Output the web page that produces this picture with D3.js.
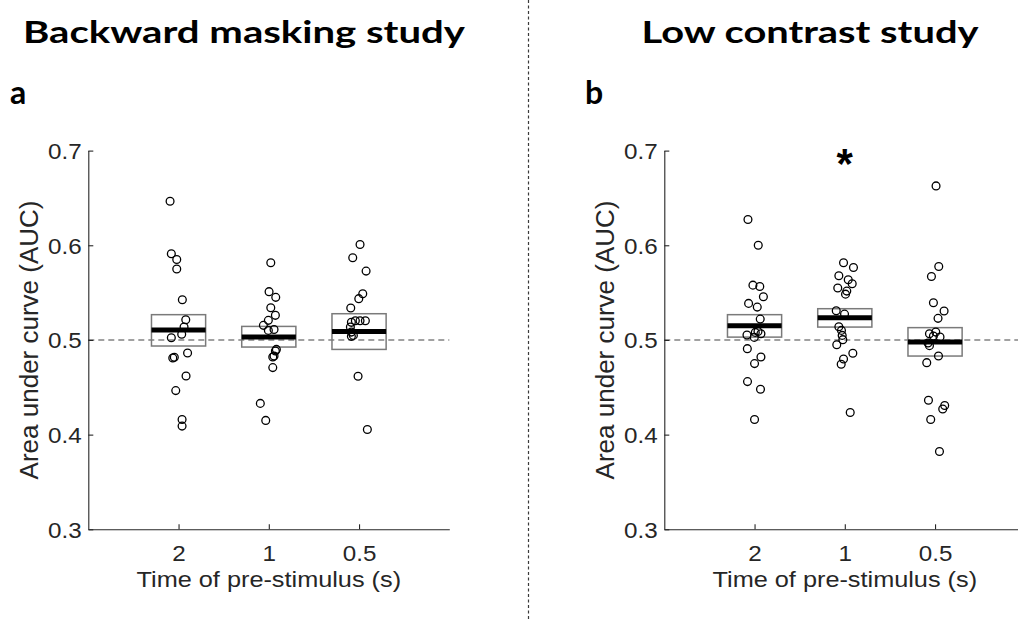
<!DOCTYPE html>
<html><head><meta charset="utf-8">
<script src="https://cdn.jsdelivr.net/npm/d3@7"></script>
<style>body{margin:0;background:#fff}svg{display:block}</style>
</head><body>
<svg id="c" width="1018" height="620"></svg>
<script>
// ---- data ----
const categories = ["2", "1", "0.5"];
const yTicks = [0.3, 0.4, 0.5, 0.6, 0.7];
const titles = ["Backward masking study", "Low contrast study"];
const panelLetters = ["a", "b"];

// Backward masking study: AUC per participant
const maskT2 = [0.6465,0.591,0.585,0.575,0.5425,0.5214,0.5136,0.506,0.5024,0.4862,0.481,0.4817,0.462,0.4465,0.416,0.409];
const maskT2J = [-0.094,-0.08,-0.02,-0.02,0.042,0.08,0.061,0.035,-0.08,0.10,-0.064,-0.047,0.083,-0.031,0.039,0.039];
const maskT1 = [0.5815,0.551,0.545,0.534,0.526,0.5207,0.5154,0.5101,0.511,0.490,0.4883,0.482,0.483,0.4708,0.433,0.415];
const maskT1J = [0.022,0.003,0.077,0.022,0.073,-0.005,-0.06,-0.005,0.058,0.084,0.073,0.044,0.058,0.044,-0.094,-0.034];
const maskT05 = [0.6008,0.5868,0.5727,0.5488,0.5436,0.5337,0.5203,0.5203,0.5203,0.5186,0.5136,0.5083,0.5038,0.5048,0.4616,0.4054];
const maskT05J = [0.011,-0.07,0.078,0.041,-0.003,-0.092,0.07,0.011,-0.041,-0.085,-0.096,-0.085,-0.085,-0.063,-0.011,0.092];
const maskBoxLow = [0.4936, 0.4925, 0.490];
const maskBoxMid = [0.5105, 0.503, 0.509];
const maskBoxHigh = [0.5267, 0.5143, 0.5277];

// Low contrast study
const lowT2 = [0.6272,0.6001,0.5579,0.5565,0.5457,0.5386,0.5347,0.522,0.509,0.5066,0.5052,0.5027,0.508,0.4908,0.482,0.475,0.456,0.4479,0.4159];
const lowT2J = [-0.073,0.041,-0.018,0.058,0.098,-0.066,0.03,0.063,0.038,0.071,-0.084,-0.003,0.008,-0.08,0.071,0,-0.078,0.066,0];
const lowT1 = [0.5815,0.5766,0.5678,0.5636,0.5594,0.5548,0.5516,0.5484,0.5309,0.5273,0.514,0.5101,0.5048,0.5003,0.495,0.4859,0.4799,0.4743,0.4233];
const lowT1J = [-0.014,0.096,-0.066,0.038,0.082,-0.078,0.022,0.008,-0.095,-0.003,-0.066,-0.037,-0.029,-0.022,-0.089,0.089,-0.014,-0.04,0.06];
const lowT05 = [0.6627,0.5776,0.567,0.5393,0.5305,0.5228,0.5083,0.5066,0.5041,0.5031,0.4967,0.494,0.483,0.476,0.4363,0.4307,0.4271,0.4159,0.3822];
const lowT05J = [0.011,0.041,-0.04,-0.018,0.1,0.033,0.008,-0.062,-0.018,0.055,-0.078,-0.062,0.038,-0.092,-0.073,0.107,0.085,-0.048,0.049];
const lowBoxLow = [0.503, 0.5136, 0.483];
const lowBoxMid = [0.515, 0.5235, 0.4978];
const lowBoxHigh = [0.5267, 0.533, 0.513];

const chanceLevel = 0.5;
const significant = [false, true, false]; // low contrast study

// ---- drawing ----
const svg = d3.select("#c");
const textCol = "#262626";
const tickFont = "'Liberation Sans', Arial, sans-serif";

// divider
svg.append("line").attr("x1", 528.5).attr("x2", 528.5).attr("y1", 0).attr("y2", 620)
  .attr("stroke", "#3a3a3a").attr("stroke-width", 1.2).attr("stroke-dasharray", "3,2.5");

const panels = [
  {x0: 88.3, title: titles[0], tx: 23, tlen: 442, letter: panelLetters[0], lx: 10,
   groups: [[maskT2, maskT2J], [maskT1, maskT1J], [maskT05, maskT05J]],
   low: maskBoxLow, mid: maskBoxMid, high: maskBoxHigh, sig: [false,false,false]},
  {x0: 664.3, title: titles[1], tx: 641.5, tlen: 337, letter: panelLetters[1], lx: 585,
   groups: [[lowT2, lowT2J], [lowT1, lowT1J], [lowT05, lowT05J]],
   low: lowBoxLow, mid: lowBoxMid, high: lowBoxHigh, sig: significant}
];

const y = d3.scaleLinear().domain([0.3, 0.7]).range([529.3, 150.6]);

panels.forEach(p => {
  const x = d3.scaleLinear().domain([0, 4]).range([p.x0, p.x0 + 361]);
  const g = svg.append("g");

  // title
  g.append("text").attr("x", p.tx).attr("y", 43)
    .attr("font-family", "Lato, 'Open Sans', sans-serif").attr("font-weight", 700)
    .attr("font-size", 31).attr("fill", "#000")
    .attr("textLength", p.tlen).attr("lengthAdjust", "spacingAndGlyphs")
    .text(p.title);
  g.append("text").attr("x", p.lx).attr("y", 104)
    .attr("font-family", "Lato, 'Open Sans', sans-serif").attr("font-weight", 700)
    .attr("font-size", 32).attr("fill", "#000").text(p.letter);

  // chance line
  g.append("line").attr("x1", x(0)).attr("x2", x(4))
    .attr("y1", y(chanceLevel)).attr("y2", y(chanceLevel))
    .attr("stroke", "#444").attr("stroke-width", 1.1).attr("stroke-dasharray", "6,4");

  // boxes
  categories.forEach((c, i) => {
    const cx = i + 1;
    g.append("rect").attr("x", x(cx - 0.3)).attr("width", x(cx + 0.3) - x(cx - 0.3))
      .attr("y", y(p.high[i])).attr("height", y(p.low[i]) - y(p.high[i]))
      .attr("fill", "none").attr("stroke", "#7a7a7a").attr("stroke-width", 1.5);
    g.append("line").attr("x1", x(cx - 0.3)).attr("x2", x(cx + 0.3))
      .attr("y1", y(p.mid[i])).attr("y2", y(p.mid[i]))
      .attr("stroke", "#000").attr("stroke-width", 5);
  });

  // points
  p.groups.forEach(([vals, jit], i) => {
    g.selectAll(null).data(vals).enter().append("circle")
      .attr("cx", (d, k) => x(i + 1 + jit[k])).attr("cy", d => y(d))
      .attr("r", 3.9).attr("fill", "none").attr("stroke", "#000").attr("stroke-width", 1.3);
  });

  // significance star
  p.sig.forEach((s, i) => {
    if (!s) return;
    g.append("text").attr("x", x(i + 1)).attr("y", y(0.7) + 27)
      .attr("text-anchor", "middle").attr("font-family", tickFont).attr("font-weight", 700)
      .attr("font-size", 42).attr("fill", "#000").text("*");
  });

  // axes
  const yAxis = d3.axisLeft(y).tickValues(yTicks).tickFormat(d3.format(".1f"))
    .tickSizeInner(-5).tickSizeOuter(0).tickPadding(6);
  const ya = g.append("g").attr("transform", `translate(${p.x0},0)`).call(yAxis);
  const xAxis = d3.axisBottom(x).tickValues([1, 2, 3]).tickFormat(d => categories[d - 1])
    .tickSizeInner(-5).tickSizeOuter(0).tickPadding(16);
  const xa = g.append("g").attr("transform", `translate(0,${y(0.3)})`).call(xAxis);
  [ya, xa].forEach(a => {
    a.select(".domain").attr("stroke", textCol).attr("stroke-width", 1.1);
    a.selectAll(".tick line").attr("stroke", textCol).attr("stroke-width", 1.1);
    a.selectAll(".tick text").attr("fill", textCol).attr("font-family", tickFont)
      .attr("font-size", 22).attr("transform", "scale(1.1,1)");
  });
  ya.selectAll(".tick text").attr("dy", "0.36em");

  // axis labels
  g.append("text").attr("transform", `translate(${x(2)},587) scale(1.15,1)`)
    .attr("text-anchor", "middle").attr("font-family", tickFont).attr("font-size", 22)
    .attr("fill", textCol).text("Time of pre-stimulus (s)");
  g.append("text").attr("transform", `translate(${p.x0 - 50},${y(0.5)}) rotate(-90)`)
    .attr("text-anchor", "middle").attr("font-family", tickFont).attr("font-size", 26)
    .attr("fill", textCol).text("Area under curve (AUC)");
});
</script>
</body></html>
